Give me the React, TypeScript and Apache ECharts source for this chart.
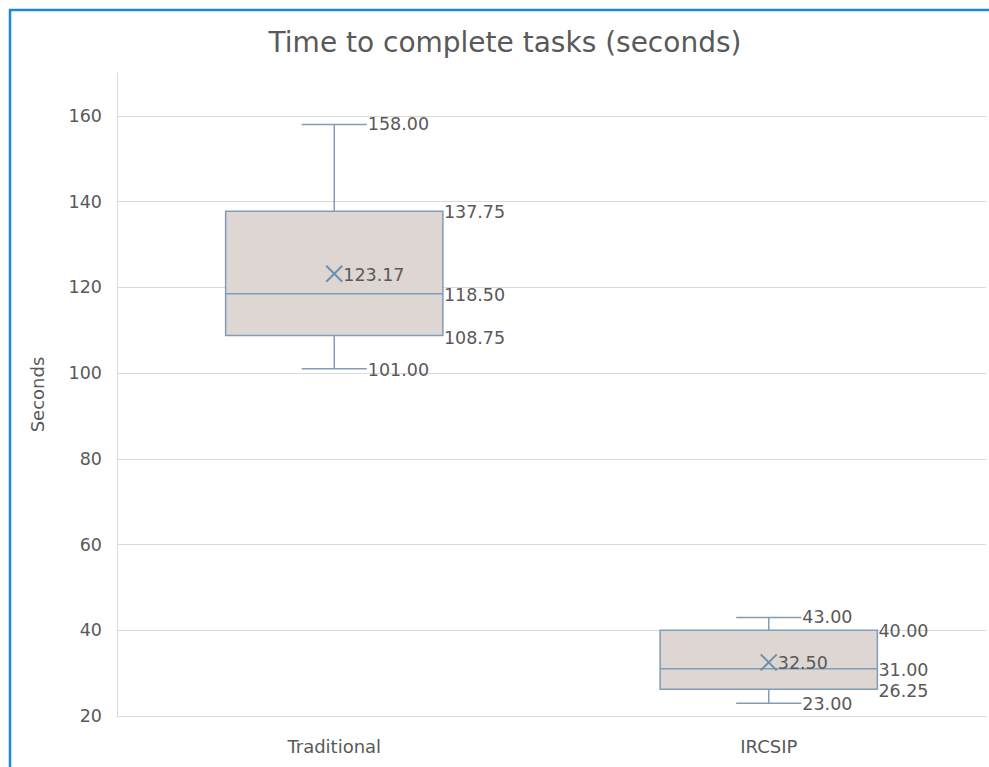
import React, { useEffect, useRef } from "react";
import * as echarts from "echarts";

const categories = ["Traditional", "IRCSIP"];
const minValues = [101, 23];
const q1Values = [108.75, 26.25];
const medianValues = [118.5, 31];
const q3Values = [137.75, 40];
const maxValues = [158, 43];
const meanValues = [123.17, 32.5];

const TEXT = "#595959";
const FONT = "DejaVu Sans";
const BOX_FILL = "#ddd6d2";
const BOX_STROKE = "#7f9db8";

export default function App() {
  const ref = useRef<HTMLDivElement>(null);
  useEffect(() => {
    if (!ref.current) return;
    const chart = echarts.init(ref.current, undefined, { renderer: "svg" });
    const data = categories.map((c, i) => [
      i,
      minValues[i],
      q1Values[i],
      medianValues[i],
      q3Values[i],
      maxValues[i],
      meanValues[i],
    ]);
    const lbl = (x: number, y: number, v: number) => ({
      type: "text",
      x,
      y,
      silent: true,
      style: {
        text: v.toFixed(2),
        fill: TEXT,
        fontSize: 17.5,
        fontFamily: FONT,
        textAlign: "left",
        textVerticalAlign: "middle",
      },
    });
    const option: any = {
      animation: false,
      backgroundColor: "#ffffff",
      grid: { left: 117, right: 3, top: 73, bottom: 51, containLabel: false },
      graphic: [
        {
          type: "rect",
          shape: { x: 10, y: 10, width: 1200, height: 1000 },
          style: { fill: "none", stroke: "#1a8bc8", lineWidth: 2.5 },
          silent: true,
        },
        {
          type: "text",
          x: 505,
          y: 42,
          style: {
            text: "Time to complete tasks (seconds)",
            fill: TEXT,
            fontSize: 28,
            fontFamily: FONT,
            textAlign: "center",
            textVerticalAlign: "middle",
          },
        },
      ],
      xAxis: {
        type: "category",
        data: categories,
        axisLine: { show: true, lineStyle: { color: "#d9d9d9" } },
        axisTick: { show: false },
        axisLabel: { color: TEXT, fontSize: 18, fontFamily: FONT, margin: 21 },
        splitLine: { show: false },
      },
      yAxis: {
        type: "value",
        min: 20,
        max: 170,
        interval: 20,
        name: "Seconds",
        nameLocation: "middle",
        nameGap: 71,
        nameTextStyle: { color: TEXT, fontSize: 18, fontFamily: FONT },
        axisLine: { show: true, lineStyle: { color: "#d9d9d9" } },
        axisTick: { show: false },
        axisLabel: {
          color: TEXT,
          fontSize: 17.5,
          fontFamily: FONT,
          margin: 15,
          showMaxLabel: false,
        },
        splitLine: { show: true, showMaxLine: false, lineStyle: { color: "#d9d9d9" } },
      },
      series: [
        {
          type: "custom",
          data,
          encode: { x: 0, y: [1, 2, 3, 4, 5, 6] },
          renderItem: (params: any, api: any) => {
            const cat = api.value(0);
            const catW = api.size([1, 0])[0];
            const boxHalf = catW * 0.25;
            const capHalf = catW * 0.075;
            const pMin = api.coord([cat, api.value(1)]);
            const pQ1 = api.coord([cat, api.value(2)]);
            const pMed = api.coord([cat, api.value(3)]);
            const pQ3 = api.coord([cat, api.value(4)]);
            const pMax = api.coord([cat, api.value(5)]);
            const pMean = api.coord([cat, api.value(6)]);
            const cx = pMed[0];
            const ls = { stroke: BOX_STROKE, lineWidth: 1.5 };
            const xs = 8;
            return {
              type: "group",
              children: [
                { type: "line", shape: { x1: cx, y1: pMax[1], x2: cx, y2: pQ3[1] }, style: ls },
                { type: "line", shape: { x1: cx, y1: pQ1[1], x2: cx, y2: pMin[1] }, style: ls },
                { type: "line", shape: { x1: cx - capHalf, y1: pMax[1], x2: cx + capHalf, y2: pMax[1] }, style: ls },
                { type: "line", shape: { x1: cx - capHalf, y1: pMin[1], x2: cx + capHalf, y2: pMin[1] }, style: ls },
                {
                  type: "rect",
                  shape: { x: cx - boxHalf, y: pQ3[1], width: boxHalf * 2, height: pQ1[1] - pQ3[1] },
                  style: { fill: BOX_FILL, stroke: BOX_STROKE, lineWidth: 1.5 },
                },
                { type: "line", shape: { x1: cx - boxHalf, y1: pMed[1], x2: cx + boxHalf, y2: pMed[1] }, style: ls },
                { type: "line", shape: { x1: cx - xs, y1: pMean[1] - xs, x2: cx + xs, y2: pMean[1] + xs }, style: { stroke: "#6e8fac", lineWidth: 2 } },
                { type: "line", shape: { x1: cx - xs, y1: pMean[1] + xs, x2: cx + xs, y2: pMean[1] - xs }, style: { stroke: "#6e8fac", lineWidth: 2 } },
                lbl(cx + capHalf + 1, pMax[1], api.value(5)),
                lbl(cx + capHalf + 1, pMin[1] + 1, api.value(1)),
                lbl(cx + boxHalf + 1, pQ3[1] + 1, api.value(4)),
                lbl(cx + boxHalf + 1, pMed[1] + 1, api.value(3)),
                lbl(cx + boxHalf + 1, pQ1[1] + 2, api.value(2)),
                lbl(cx + xs + 1, pMean[1] + 1, api.value(6)),
              ],
            };
          },
        },
      ],
    };
    chart.setOption(option);
    return () => chart.dispose();
  }, []);
  return (
    <div
      ref={ref}
      style={{ position: "absolute", left: 0, top: 0, width: 989, height: 767 }}
    />
  );
}
